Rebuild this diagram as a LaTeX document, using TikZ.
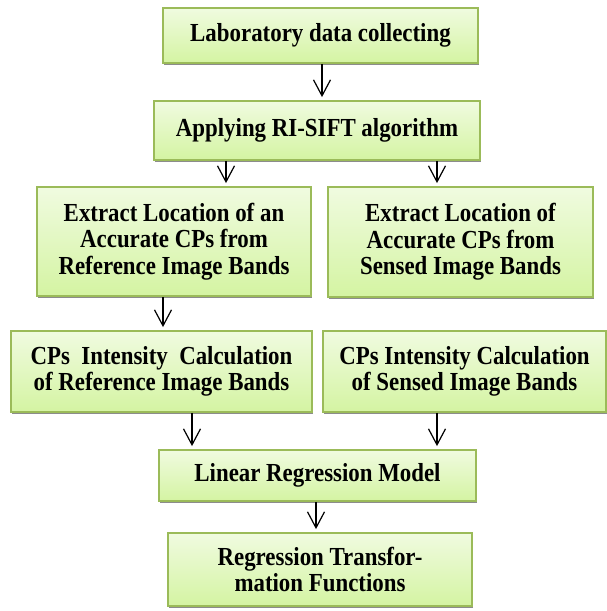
\documentclass[tikz,border=0pt]{standalone}
\usepackage{fontspec}
\setmainfont{Liberation Serif}[FakeStretch=0.88]
\usetikzlibrary{shadows,arrows.meta}
\definecolor{boxborder}{HTML}{9BBB59}
\definecolor{boxtop}{HTML}{F0FBE0}
\definecolor{boxbottom}{HTML}{D4F4A2}
\tikzset{
  stepbox/.style={draw=boxborder, line width=0.9pt, top color=boxtop, bottom color=boxbottom,
    drop shadow={shadow xshift=0.4pt, shadow yshift=-1.1pt, fill=black!45, opacity=1},
    align=center, inner sep=0pt, font=\fontsize{13}{13.3}\selectfont\bfseries},
  arr/.style={-{Straight Barb[length=8pt,width=8.5pt]}, line width=0.6pt, shorten >=1.5pt}
}
\begin{document}
\begin{tikzpicture}[x=0.5pt,y=-0.5pt]
\useasboundingbox (0,0) rectangle (606,611);
%%%% Boxes:
\node[stepbox, minimum width=157.5pt, minimum height=27.5pt] (lab) at (320.5,35.5) {Laboratory data collecting};
\node[stepbox, minimum width=163pt, minimum height=29.5pt] (sift) at (317,130.5) {Applying RI-SIFT algorithm};
\node[stepbox, minimum width=137pt, minimum height=54.5pt] (extref) at (174,241.5) {Extract Location of an\\Accurate CPs from\\Reference Image Bands};
\node[stepbox, minimum width=132.5pt, minimum height=55pt] (extsen) at (460.5,242) {Extract Location of\\Accurate CPs from\\Sensed Image Bands};
\node[stepbox, minimum width=150.5pt, minimum height=40.5pt] (intref) at (161.5,371.5) {CPs\ \ Intensity\ \ Calculation\\of Reference Image Bands};
\node[stepbox, minimum width=141.5pt, minimum height=40.5pt] (intsen) at (464.5,371.5) {CPs Intensity Calculation\\of Sensed Image Bands};
\node[stepbox, minimum width=158.5pt, minimum height=25.5pt] (linreg) at (317.5,475.5) {Linear Regression Model};
\node[stepbox, minimum width=152pt, minimum height=36.5pt] (regfun) at (320,569.5) {Regression Transfor-\\mation Functions};
%%%% Arrow columns:
\coordinate (c1) at (322,0);
\coordinate (c2l) at (226,0);
\coordinate (c2r) at (437,0);
\coordinate (c3) at (163,0);
\coordinate (c4l) at (192,0);
\coordinate (c4r) at (437,0);
\coordinate (c5) at (316,0);
%%%% Arrows:
\draw[arr] (lab.south -| c1) -- (sift.north -| c1);
\draw[arr] (sift.south -| c2l) -- (extref.north -| c2l);
\draw[arr] (sift.south -| c2r) -- (extsen.north -| c2r);
\draw[arr] (extref.south -| c3) -- (intref.north -| c3);
\draw[arr] (intref.south -| c4l) -- (linreg.north -| c4l);
\draw[arr] (intsen.south -| c4r) -- (linreg.north -| c4r);
\draw[arr] (linreg.south -| c5) -- (regfun.north -| c5);
\end{tikzpicture}
\end{document}
